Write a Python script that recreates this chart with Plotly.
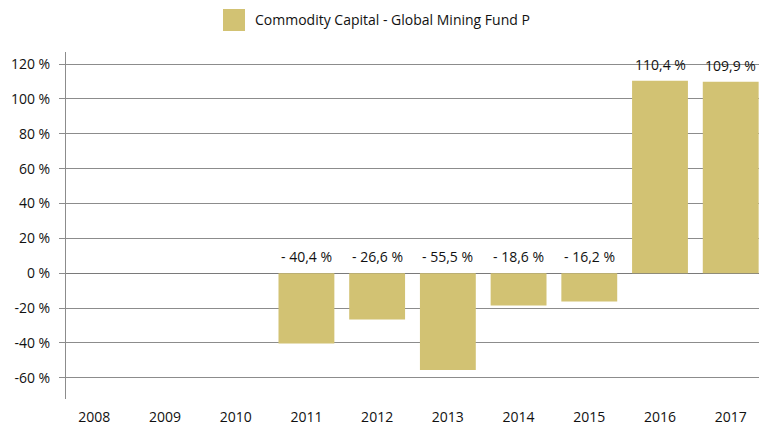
import plotly.graph_objects as go

years = ["2008", "2009", "2010", "2011", "2012", "2013", "2014", "2015", "2016", "2017"]
returns = [None, None, None, -40.4, -26.6, -55.5, -18.6, -16.2, 110.4, 109.9]
series_name = "Commodity Capital - Global Mining Fund P"
y_tickvals = [120, 100, 80, 60, 40, 20, 0, -20, -40, -60]
y_ticktext = ["120 %", "100 %", "80 %", "60 %", "40 %", "20 %", "0 %", "-20 %", "-40 %", "-60 %"]

BAR_COLOR = "#D2C273"
FONT = "Open Sans"
FS = 14
TEXT_COLOR = "#111111"
GRID = "#8c8c8c"


def fmt(v):
    s = f"{abs(v):.1f}".replace(".", ",") + " %"
    return ("- " + s) if v < 0 else s


fig = go.Figure()
fig.add_trace(go.Bar(x=years, y=returns, name=series_name, marker_color=BAR_COLOR,
                     marker_line_width=0, width=0.79, showlegend=False))

for i, v in enumerate(returns):
    if v is None:
        continue
    fig.add_annotation(x=i, y=max(v, 0), text=fmt(v), showarrow=False,
                       yanchor="bottom", yshift=5,
                       font=dict(family=FONT, size=FS, color=TEXT_COLOR))

# legend drawn manually (large square swatch)
fig.add_shape(type="rect", xref="paper", yref="paper",
              x0=(223 - 66) / 693, x1=(245 - 66) / 693,
              y0=1 + (52 - 31) / 347, y1=1 + (52 - 9) / 347,
              fillcolor=BAR_COLOR, line_width=0)
fig.add_annotation(xref="paper", yref="paper", x=(253 - 66) / 693, y=1 + (52 - 20) / 347,
                   text=series_name, showarrow=False, xanchor="left", yanchor="middle",
                   font=dict(family=FONT, size=FS, color=TEXT_COLOR))

fig.update_layout(
    width=759, height=426,
    margin=dict(l=66, r=0, t=52, b=27),
    plot_bgcolor="white", paper_bgcolor="white",
    font=dict(family=FONT, size=FS, color=TEXT_COLOR),
    showlegend=False,
)
fig.update_xaxes(type="category", range=[-0.4, 9.4], showgrid=False, showline=False,
                 ticks="", tickfont=dict(family=FONT, size=FS, color=TEXT_COLOR),
                 ticklabelstandoff=8, fixedrange=True)
fig.update_yaxes(range=[-72.2, 126.9], tickvals=y_tickvals, ticktext=y_ticktext,
                 showgrid=True, gridcolor=GRID, gridwidth=1,
                 zeroline=True, zerolinecolor="#7a7a7a", zerolinewidth=1,
                 showline=True, linecolor="#8c8c8c", linewidth=1,
                 ticks="outside", ticklen=6, tickcolor=GRID,
                 ticklabelstandoff=6,
                 tickfont=dict(family=FONT, size=FS, color=TEXT_COLOR))

fig.write_html("out.html", config={"displayModeBar": False},
               post_script="document.body.style.margin='0';document.body.style.overflow='hidden';")
